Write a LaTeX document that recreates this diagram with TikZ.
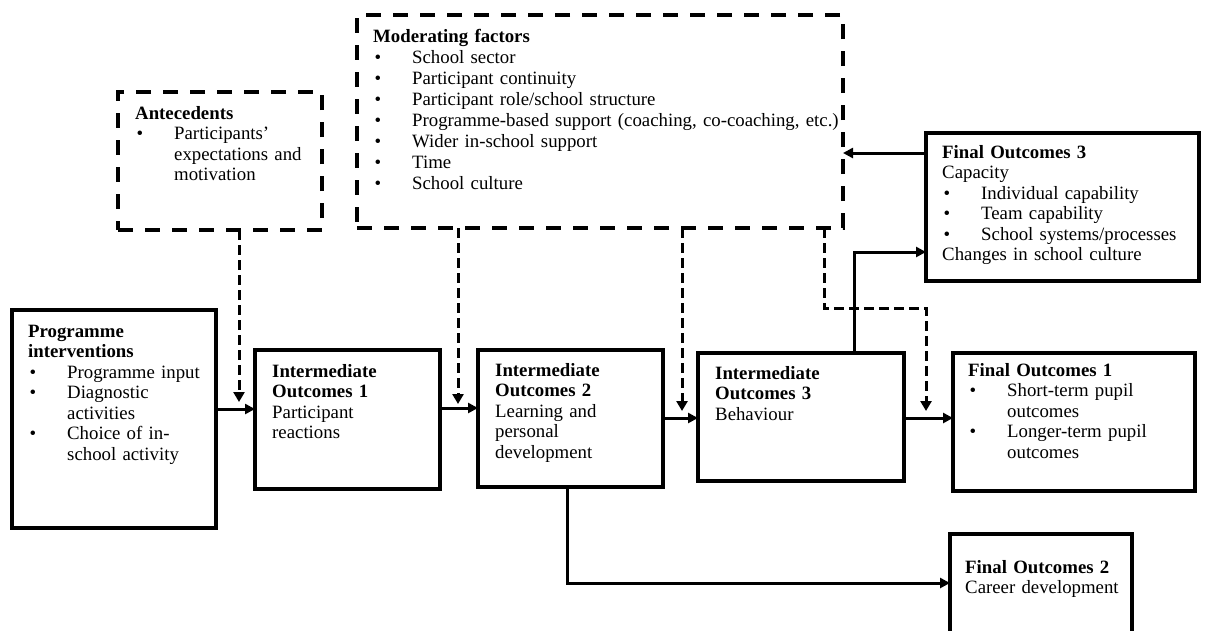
\documentclass[tikz,border=0pt]{standalone}
\usepackage{fontspec}
\setmainfont{Liberation Serif}
\usetikzlibrary{arrows.meta}
\newlength{\bw}\setlength{\bw}{39pt}
\newcommand{\bi}{\par\noindent\hangindent=\bw\hangafter=1\makebox[\bw][l]{\hspace{1.5pt}\textbullet}}
\newcommand{\nl}{\hfil\break}
\tikzset{
  solidbox/.style={draw=black, line width=3.6pt, minimum width=#1, inner sep=0pt, outer sep=0pt},
  dashbox/.style={draw=black, line width=3.8pt, dash pattern=on 15pt off 12pt, inner sep=0pt, outer sep=0pt},
  txt/.style={anchor=base west, inner sep=0pt, align=left, text width=#1, font=\fontsize{18.8}{20.5}\selectfont},
  conn/.style={draw=black, line width=3pt, -{Triangle[length=10pt,width=10pt]}},
  dconn/.style={draw=black, line width=3pt, dash pattern=on 10pt off 5pt, -{Triangle[length=10pt,width=11pt]}},
}
\begin{document}
\begin{tikzpicture}[x=1pt,y=-1pt]
\useasboundingbox (0,0) rectangle (1206,630);
\clip (0,0) rectangle (1206,630);
\fill[white] (0,0) rectangle (1206,630);
% boxes
\node[dashbox, minimum width=204pt, minimum height=138pt] (ant) at (220,161) {};
\node[dashbox, minimum width=486pt, minimum height=213pt] (mod) at (600,121.5) {};
\node[solidbox=273pt, minimum height=148pt] (fo3) at (1062.5,207) {};
\node[solidbox=204pt, minimum height=218pt] (pi) at (114,419) {};
\node[solidbox=185pt, minimum height=139pt] (io1) at (347.5,419.5) {};
\node[solidbox=185pt, minimum height=137pt] (io2) at (570.5,418.5) {};
\node[solidbox=206pt, minimum height=128pt] (io3) at (801,417) {};
\node[solidbox=242pt, minimum height=138pt] (fo1) at (1074,422) {};
\node[solidbox=182pt, minimum height=126pt] (fo2) at (1041,597) {};
% texts
\node[txt=200pt] (antT) at (135,119) {\textbf{Antecedents}\bi Participants’\nl expectations and\nl motivation\par};
\node[txt=470pt, font=\fontsize{18.8}{21}\selectfont] (modT) at (373,42) {\textbf{Moderating factors}\bi School sector\bi Participant continuity\bi Participant role/school structure\bi Programme-based support (coaching, co-coaching, etc.)\bi Wider in-school support\bi Time\bi School culture\par};
\node[txt=265pt] (fo3T) at (942,158) {\textbf{Final Outcomes 3}\\Capacity\bi Individual capability\bi Team capability\bi School systems/processes\par\noindent Changes in school culture\par};
\node[txt=190pt] (piT) at (28,337) {\textbf{Programme}\\\textbf{interventions}\bi Programme input\bi Diagnostic\nl activities\bi Choice of in-\nl school activity\par};
\node[txt=170pt] (io1T) at (272,377) {\textbf{Intermediate}\\\textbf{Outcomes 1}\\Participant\\reactions};
\node[txt=170pt] (io2T) at (495,376) {\textbf{Intermediate}\\\textbf{Outcomes 2}\\Learning and\\personal\\development};
\node[txt=190pt] (io3T) at (715,379) {\textbf{Intermediate}\\\textbf{Outcomes 3}\\Behaviour};
\node[txt=230pt] (fo1T) at (968,376) {\textbf{Final Outcomes 1}\bi Short-term pupil\nl outcomes\bi Longer-term pupil\nl outcomes\par};
\node[txt=170pt] (fo2T) at (965,573) {\textbf{Final Outcomes 2}\\Career development};
% coordinates for dashed arrow ends
\coordinate (d1) at (239,402);
\coordinate (d2) at (458,404);
\coordinate (d3) at (682,411);
\coordinate (d4) at (926,411);
% solid connectors
\draw[conn] (pi.east |- 0,409) -- (io1.west |- 0,409);
\draw[conn] (io1.east |- 0,408) -- (io2.west |- 0,408);
\draw[conn] (io2.east |- 0,418) -- (io3.west |- 0,418);
\draw[conn] (io3.east |- 0,418) -- (fo1.west |- 0,418);
\draw[conn] (io2.south -| 567,0) -- (567,583) -- (fo2.west |- 0,583);
\draw[conn] (io3.north -| 854,0) -- (854,252) -- (fo3.west |- 0,252);
\draw[conn] (fo3.west |- 0,153) -- (mod.east |- 0,153);
% dashed connectors
\draw[dconn] (ant.south -| d1) -- (d1);
\draw[dconn] (mod.south -| d2) -- (d2);
\draw[dconn] (mod.south -| d3) -- (d3);
\draw[dconn] (mod.south -| 824,0) -- (824,308) -- (926,308) -- (d4);
\end{tikzpicture}
\end{document}
